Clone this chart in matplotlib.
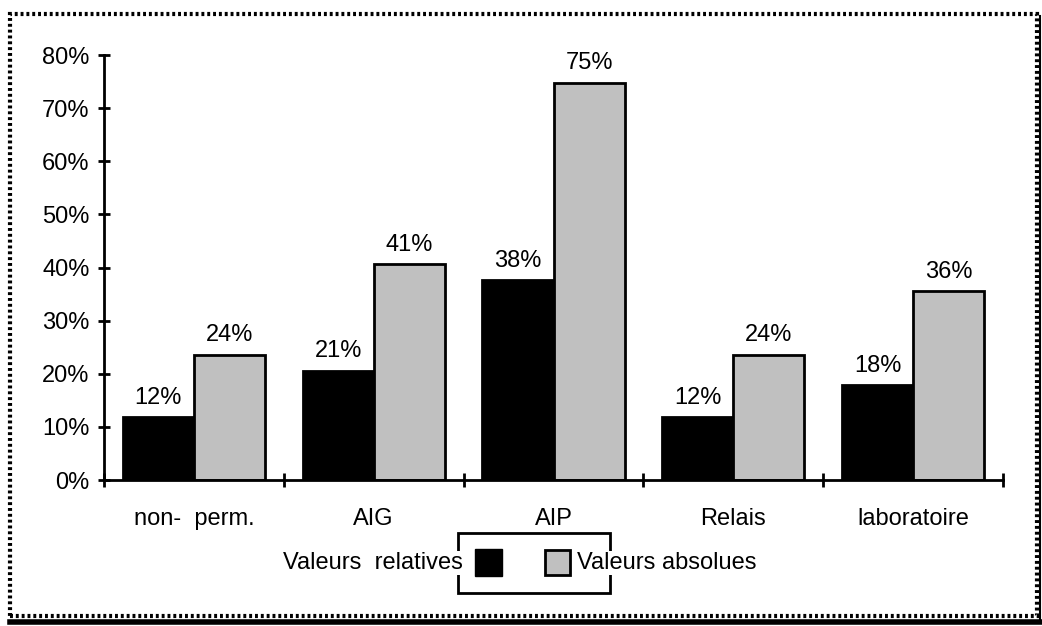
import numpy as np
import matplotlib.pyplot as plt
from matplotlib.patches import Rectangle
from matplotlib.lines import Line2D

plt.rcParams['font.family'] = ['Liberation Sans', 'DejaVu Sans']

# données
categories = ['non-  perm.', 'AIG', 'AIP', 'Relais', 'laboratoire']
relatives = [11.8, 20.6, 37.6, 11.8, 17.8]
absolues = [23.6, 40.6, 74.8, 23.6, 35.6]
yticks = [0, 10, 20, 30, 40, 50, 60, 70, 80]

FS = 17

fig = plt.figure(figsize=(10.42, 6.26), dpi=100)
ax = fig.add_axes([0.0998, 0.2332, 0.8628, 0.6788])

x = np.arange(len(categories)) + 0.5
w = 0.395
b1 = ax.bar(x - w / 2, relatives, w, color='black', edgecolor='black', linewidth=2)
b2 = ax.bar(x + w / 2, absolues, w, color='#c0c0c0', edgecolor='black', linewidth=2)

for bars in (b1, b2):
    for r in bars:
        h = r.get_height()
        ax.annotate('%.0f%%' % h, (r.get_x() + r.get_width() / 2, h),
                    xytext=(0, 6), textcoords='offset points',
                    ha='center', va='bottom', fontsize=FS)

ax.set_xlim(0, len(categories))
ax.set_ylim(0, 80)
ax.set_yticks(yticks)
ax.set_yticklabels(['%d%%' % v for v in yticks], fontsize=FS)
ax.set_xticks(np.arange(0, len(categories) + 1))
ax.set_xticklabels([])
ax.set_xticks(x, minor=True)
ax.set_xticklabels(categories, minor=True, fontsize=FS)
ax.tick_params(axis='y', direction='inout', length=9, width=2, pad=6)
ax.tick_params(axis='x', which='major', direction='inout', length=10, width=2)
ax.tick_params(axis='x', which='minor', length=0, pad=20)
for s in ['top', 'right']:
    ax.spines[s].set_visible(False)
for s in ['left', 'bottom']:
    ax.spines[s].set_linewidth(2)

# légende faite à la main
W, H = 1042, 626
def fx(px):
    return px / W
def fy(py):
    return 1 - py / H

lx0, lx1, ly0, ly1 = 458, 610, 533, 593
fig.add_artist(Rectangle((fx(lx0), fy(ly1)), fx(lx1 - lx0), (ly1 - ly0) / H,
                         transform=fig.transFigure, fill=False, edgecolor='black', linewidth=2))
fig.text(fx(463), fy(563), 'Valeurs  relatives', ha='right', va='center', fontsize=FS,
         bbox=dict(facecolor='white', edgecolor='none', pad=1))
fig.text(fx(577), fy(563), 'Valeurs absolues', ha='left', va='center', fontsize=FS,
         bbox=dict(facecolor='white', edgecolor='none', pad=1))
fig.add_artist(Rectangle((fx(475), fy(576)), fx(27), 27 / H, transform=fig.transFigure,
                         facecolor='black', edgecolor='black', linewidth=1))
fig.add_artist(Rectangle((fx(545), fy(575)), fx(25), 25 / H, transform=fig.transFigure,
                         facecolor='#c0c0c0', edgecolor='black', linewidth=2))

# cadre pointillé
fig.add_artist(Rectangle((fx(10), fy(616)), fx(1027), 602 / H, transform=fig.transFigure,
                         fill=False, edgecolor='black', linewidth=3, linestyle=(0, (0.7, 0.7))))
fig.add_artist(Line2D([fx(10), fx(1040)], [fy(622), fy(622)], transform=fig.transFigure,
                      color='black', linewidth=4))
fig.add_artist(Line2D([fx(1040), fx(1040)], [fy(622), fy(16)], transform=fig.transFigure,
                      color='black', linewidth=1.5))

fig.savefig('out.png', dpi=100)
